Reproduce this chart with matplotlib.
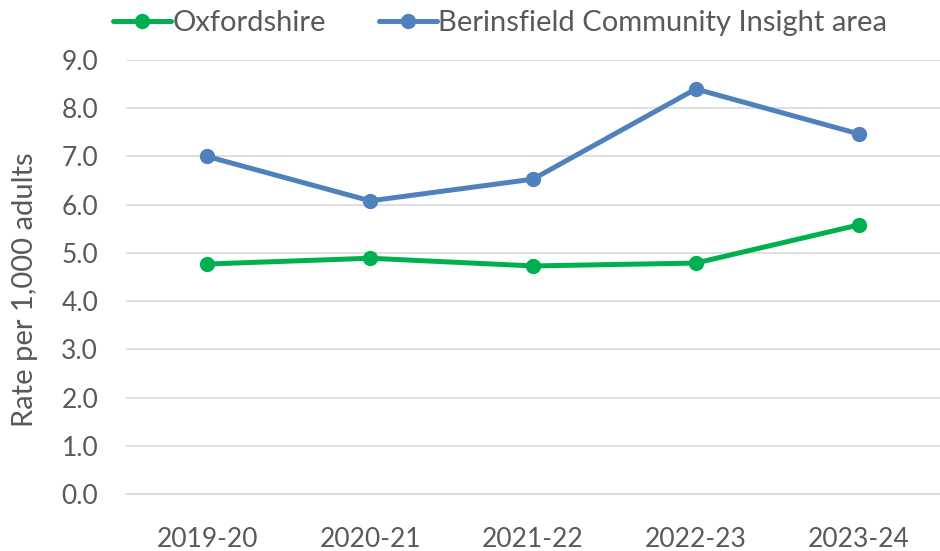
import matplotlib.pyplot as plt

# Data
years = ['2019-20', '2020-21', '2021-22', '2022-23', '2023-24']
oxfordshire = [4.77, 4.89, 4.73, 4.79, 5.58]
berinsfield = [7.00, 6.08, 6.53, 8.40, 7.47]

plt.rcParams['font.family'] = ['Lato', 'DejaVu Sans']
grey = '#595959'

fig = plt.figure(figsize=(9.4, 5.51), dpi=100)
ax = fig.add_axes([0.134, 0.1034, 0.866, 0.7876])

x = range(len(years))
ax.plot(x, oxfordshire, color='#00B050', lw=3.6, marker='o', ms=10,
        label='Oxfordshire', solid_capstyle='round')
ax.plot(x, berinsfield, color='#4F81BD', lw=3.6, marker='o', ms=10,
        label='Berinsfield Community Insight area', solid_capstyle='round')

ax.set_xlim(-0.5, len(years) - 0.5)
ax.set_ylim(0, 9)
ax.set_yticks([i for i in range(10)])
ax.set_yticklabels([f'{i:.1f}' for i in range(10)])
ax.set_xticks(list(x))
ax.set_xticklabels(years)

ax.grid(axis='y', color='#D9D9D9', lw=1.2)
ax.set_axisbelow(True)
for s in ['top', 'right', 'left']:
    ax.spines[s].set_visible(False)
ax.spines['bottom'].set_color('#D9D9D9')
ax.spines['bottom'].set_linewidth(1.2)

ax.tick_params(axis='y', length=0, pad=20, labelsize=19, labelcolor=grey)
ax.tick_params(axis='x', length=0, pad=24, labelsize=19, labelcolor=grey)

ax.set_ylabel('Rate per 1,000 adults', fontsize=21, color=grey)
ax.yaxis.set_label_coords(-0.108, 0.47)

fig.legend(loc='upper center', bbox_to_anchor=(0.532, 1.03), ncol=2,
           frameon=False, fontsize=21, labelcolor=grey, handlelength=2.0,
           handletextpad=0.05, columnspacing=1.8)

fig.savefig('out.png', dpi=100)
